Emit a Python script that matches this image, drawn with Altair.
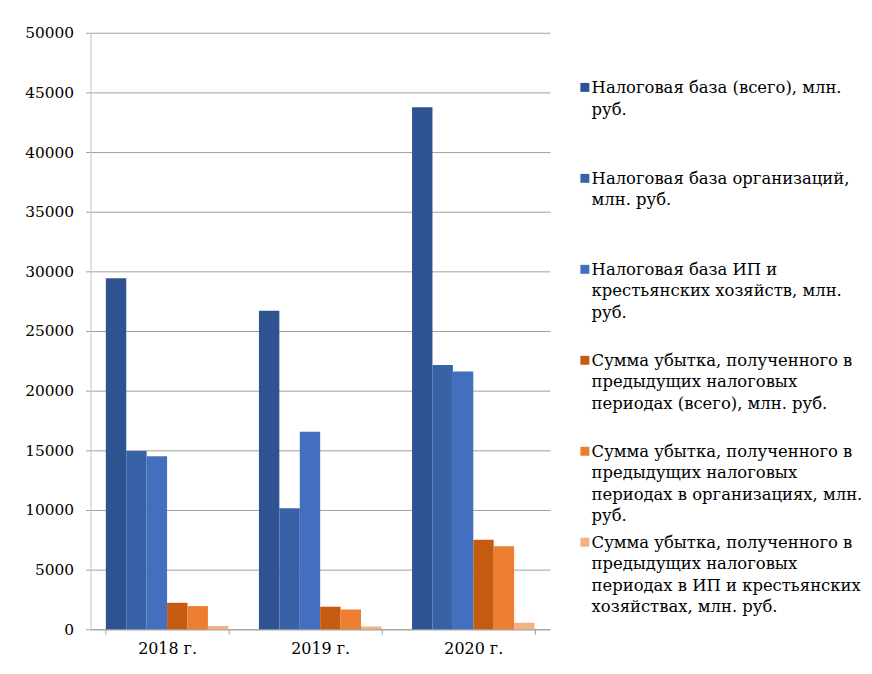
import altair as alt
import pandas as pd

years = ["2018 г.", "2019 г.", "2020 г."]
series = [
    "Налоговая база (всего), млн.\nруб.",
    "Налоговая база организаций,\nмлн. руб.",
    "Налоговая база ИП и\nкрестьянских хозяйств, млн.\nруб.",
    "Сумма убытка, полученного в\nпредыдущих налоговых\nпериодах (всего), млн. руб.",
    "Сумма убытка, полученного в\nпредыдущих налоговых\nпериодах в организациях, млн.\nруб.",
    "Сумма убытка, полученного в\nпредыдущих налоговых\nпериодах в ИП и крестьянских\nхозяйствах, млн. руб.",
]
tax_base_total = [29420, 26700, 43750]
tax_base_org = [14950, 10150, 22150]
tax_base_ip = [14500, 16550, 21600]
loss_total = [2220, 1890, 7500]
loss_org = [1940, 1660, 6950]
loss_ip = [280, 230, 550]
colors = ["#2F5290", "#3862A8", "#4270BE", "#C55A11", "#ED7D31", "#F4B183"]
y_ticks = [0, 5000, 10000, 15000, 20000, 25000, 30000, 35000, 40000, 45000, 50000]

values = [tax_base_total, tax_base_org, tax_base_ip, loss_total, loss_org, loss_ip]
rows = []
for s, vals in zip(series, values):
    for y, v in zip(years, vals):
        rows.append({"year": y, "series": s, "value": v})
df = pd.DataFrame(rows)

FONT = "DejaVu Serif"

chart = alt.Chart(df).mark_bar().encode(
    x=alt.X(
        "year:N",
        sort=years,
        title=None,
        scale=alt.Scale(paddingInner=0.2, paddingOuter=0.1),
        axis=alt.Axis(
            labelAngle=0,
            labelFont=FONT,
            labelFontSize=16,
            labelColor="#000000",
            labelPadding=6,
            tickBand="extent",
            tickSize=5,
            tickColor="#A0A0A0",
            domainColor="#A0A0A0",
            grid=False,
        ),
    ),
    xOffset=alt.XOffset(
        "series:N",
        sort=series,
        scale=alt.Scale(paddingInner=0, paddingOuter=0),
    ),
    y=alt.Y(
        "value:Q",
        title=None,
        scale=alt.Scale(domain=[0, 50000], nice=False),
        axis=alt.Axis(
            values=y_ticks,
            format="d",
            labelFont=FONT,
            labelFontSize=15.5,
            labelColor="#000000",
            labelPadding=12,
            tickSize=5,
            tickColor="#A0A0A0",
            domainColor="#C4C4C4",
            gridColor="#A0A0A0",
        ),
    ),
    color=alt.Color(
        "series:N",
        sort=series,
        scale=alt.Scale(domain=series, range=colors),
        legend=alt.Legend(
            title=None,
            orient="none",
            legendX=487.5,
            legendY=39.5,
            padding=0,
            symbolType="M-0.67,0.6H1.33V2.6H-0.67Z",
            symbolSize=81,
            symbolStrokeWidth=0,
            labelFont=FONT,
            labelFontSize=16.5,
            labelColor="#000000",
            labelBaseline="top",
            labelOffset=0,
            labelLimit=0,
            labelExpr="split(datum.label + '\\n\\n\\n', '\\n', 4)",
            rowPadding=1.5,
        ),
    ),
).properties(
    width=462,
    height=600,
    padding={"left": 16, "top": 16, "right": 0, "bottom": 0},
).configure(
    view={"stroke": None},
    style={"guide-label": {"lineHeight": 21.5}},
)

chart.save("out.html", embed_options={"renderer": "svg", "actions": False})
